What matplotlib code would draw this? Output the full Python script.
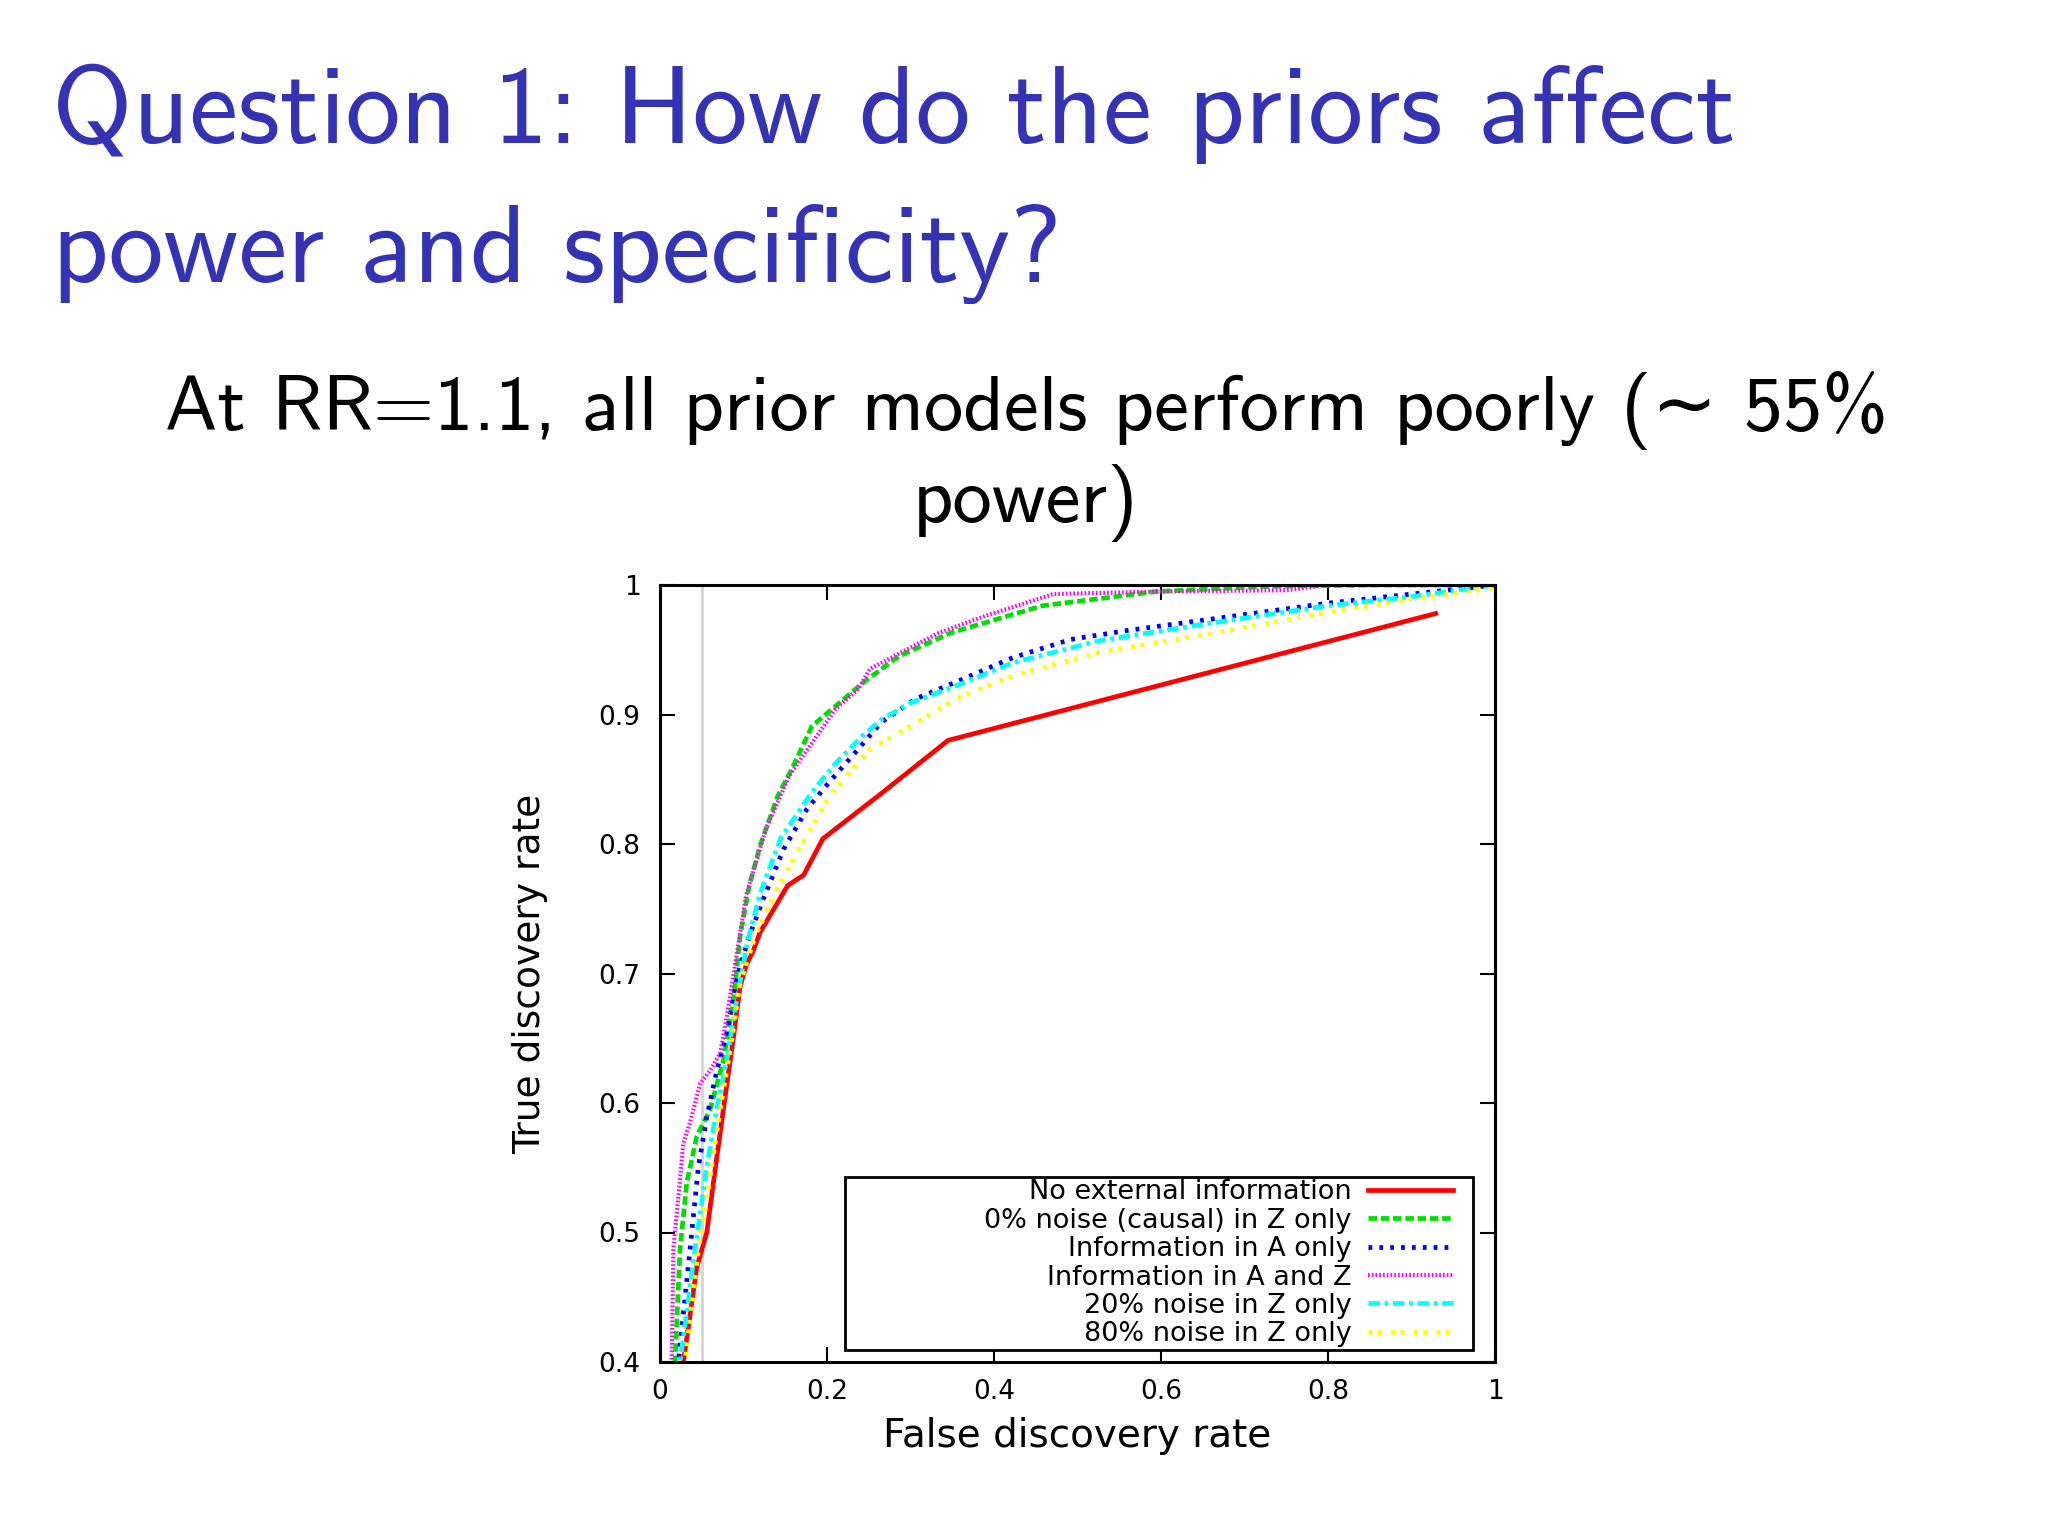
import matplotlib
matplotlib.use('Agg')
import matplotlib.pyplot as plt
from matplotlib.patches import Rectangle

# slide text
title_lines = ['Question 1: How do the priors affect', 'power and specificity?']
subtitle_lines = ['At RR=1.1, all prior models perform poorly (\u223c 55%', 'power)']

# axis setup
x_label = 'False discovery rate'
y_label = 'True discovery rate'
x_ticks = [0, 0.2, 0.4, 0.6, 0.8, 1.0]
x_tick_labels = ['0', '0.2', '0.4', '0.6', '0.8', '1']
y_ticks = [0.4, 0.5, 0.6, 0.7, 0.8, 0.9, 1.0]
y_tick_labels = ['0.4', '0.5', '0.6', '0.7', '0.8', '0.9', '1']
fdr_line = 0.05

# curves (FDR, TDR)
none_x = [0.024, 0.028, 0.044, 0.056, 0.068, 0.078, 0.088, 0.096, 0.103, 0.112, 0.120,
          0.153, 0.172, 0.195, 0.265, 0.345, 0.929]
none_y = [0.37, 0.40, 0.473, 0.50, 0.558, 0.605, 0.651, 0.69, 0.706, 0.718, 0.732,
          0.768, 0.776, 0.804, 0.839, 0.880, 0.978]

z0_x = [0.016, 0.018, 0.024, 0.032, 0.044, 0.060, 0.076, 0.088, 0.096, 0.107, 0.120,
        0.141, 0.158, 0.182, 0.244, 0.286, 0.348, 0.458, 0.595, 0.733, 0.85, 1.0]
z0_y = [0.37, 0.40, 0.487, 0.538, 0.574, 0.595, 0.633, 0.68, 0.729, 0.768, 0.799,
        0.837, 0.858, 0.891, 0.925, 0.945, 0.963, 0.984, 0.995, 0.999, 1.0, 1.0]

a_x = [0.020, 0.022, 0.036, 0.046, 0.056, 0.068, 0.080, 0.092, 0.107, 0.124, 0.148,
       0.176, 0.203, 0.237, 0.265, 0.306, 0.354, 0.423, 0.492, 0.561, 0.664, 0.80, 0.9, 1.0]
a_y = [0.37, 0.40, 0.487, 0.551, 0.589, 0.625, 0.654, 0.697, 0.729, 0.758, 0.796,
       0.827, 0.848, 0.873, 0.894, 0.912, 0.925, 0.944, 0.958, 0.965, 0.974, 0.986, 0.993, 1.0]

az_x = [0.012, 0.014, 0.016, 0.028, 0.036, 0.048, 0.060, 0.072, 0.080, 0.089, 0.103,
        0.127, 0.155, 0.182, 0.21, 0.238, 0.251, 0.292, 0.334, 0.389, 0.471, 0.6, 0.75, 0.8, 1.0]
az_y = [0.37, 0.40, 0.487, 0.569, 0.585, 0.615, 0.625, 0.638, 0.667, 0.703, 0.76,
        0.812, 0.853, 0.878, 0.904, 0.92, 0.935, 0.949, 0.963, 0.976, 0.993, 0.995, 0.996, 1.0, 1.0]

z20_x = [0.022, 0.024, 0.042, 0.056, 0.068, 0.080, 0.092, 0.105, 0.12, 0.145, 0.182,
         0.21, 0.24, 0.265, 0.30, 0.354, 0.423, 0.526, 0.664, 0.80, 0.9, 1.0]
z20_y = [0.37, 0.40, 0.487, 0.551, 0.595, 0.633, 0.68, 0.725, 0.762, 0.805, 0.84,
         0.862, 0.882, 0.896, 0.909, 0.922, 0.94, 0.957, 0.971, 0.984, 0.991, 1.0]

z80_x = [0.028, 0.030, 0.046, 0.060, 0.072, 0.084, 0.096, 0.114, 0.141, 0.169, 0.203,
         0.251, 0.30, 0.354, 0.423, 0.526, 0.664, 0.80, 0.9, 1.0]
z80_y = [0.37, 0.40, 0.487, 0.543, 0.595, 0.641, 0.693, 0.729, 0.766, 0.799, 0.837,
         0.873, 0.891, 0.912, 0.93, 0.948, 0.963, 0.979, 0.989, 0.998]

series_labels = ['No external information', '0% noise (causal) in Z only',
                 'Information in A only', 'Information in A and Z',
                 '20% noise in Z only', '80% noise in Z only']

plt.rcParams['font.family'] = ['DejaVu Sans']

fig = plt.figure(figsize=(20.48, 15.36), dpi=100)
W, H = 2048, 1536

# title and subtitle (beamer look)
blue = '#3333b3'
slide_font = ['cmss10', 'DejaVu Sans']
fig.text(52 / W, 1 - 143 / H, title_lines[0], family=slide_font, fontsize=79,
         color=blue, ha='left', va='baseline')
fig.text(52 / W, 1 - 282 / H, title_lines[1], family=slide_font, fontsize=79,
         color=blue, ha='left', va='baseline')
fig.text(1026 / W, 1 - 430 / H, subtitle_lines[0], family=slide_font, fontsize=56.6,
         color='black', ha='center', va='baseline')
fig.text(1026 / W, 1 - 522 / H, subtitle_lines[1], family=slide_font, fontsize=56.6,
         color='black', ha='center', va='baseline')

ax = fig.add_axes([660 / W, 1 - 1362 / H, 835 / W, 777 / H])

ax.axvline(fdr_line, color='#d4d4d4', lw=2, zorder=1)

lw = 3.4
ax.plot(none_x, none_y, color='#ff0000', lw=lw, ls='-', label=series_labels[0])
ax.plot(z0_x, z0_y, color='#00e000', lw=lw, dashes=(1.8, 0.8), label=series_labels[1])
ax.plot(a_x, a_y, color='#0000ff', lw=lw, dashes=(0.8, 1.5), label=series_labels[2])
ax.plot(az_x, az_y, color='#ff00ff', lw=3.0, dashes=(0.4, 0.5), label=series_labels[3])
ax.plot(z20_x, z20_y, color='#00ffff', lw=lw, dashes=(2.4, 1.0, 0.8, 1.0), label=series_labels[4])
ax.plot(z80_x, z80_y, color='#ffff00', lw=lw, dashes=(0.8, 1.2, 0.8, 2.0), label=series_labels[5])

ax.set_xlim(0, 1)
ax.set_ylim(0.4, 1.0)
ax.set_xticks(x_ticks, x_tick_labels)
ax.set_yticks(y_ticks, y_tick_labels)
ax.tick_params(direction='in', length=11, width=1.5, top=True, right=True,
               labelsize=19, colors='black')
ax.tick_params(axis='y', pad=14)
ax.tick_params(axis='x', pad=12)
for s in ax.spines.values():
    s.set_linewidth(2.2)

ax.set_xlabel(x_label, fontsize=28)
ax.xaxis.set_label_coords(0.5, -(1447 - 1362) / 777)
ax.xaxis.label.set_va('baseline')
ax.set_ylabel(y_label, fontsize=27)
ax.yaxis.set_label_coords(-(660 - 530) / 835, 0.5)
ax.yaxis.label.set_va('center')

# legend frame like gnuplot's key box
ax.add_patch(Rectangle((0.222, 0.015), 0.752, 0.223, transform=ax.transAxes,
                       facecolor='white', edgecolor='black', lw=2, zorder=5))
leg = ax.legend(loc='center right', bbox_to_anchor=(0.950, 0.127), frameon=False,
                markerfirst=False, fontsize=19.5, labelspacing=0.09, handlelength=3.15,
                handletextpad=0.6, borderpad=0, borderaxespad=0)
leg.set_zorder(6)

fig.savefig('out.png', dpi=100, facecolor='white')
